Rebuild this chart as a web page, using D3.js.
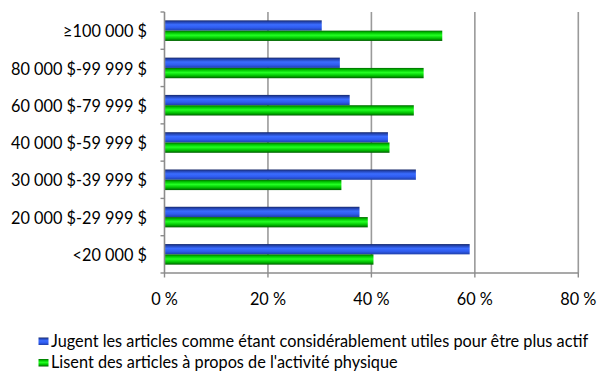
<!DOCTYPE html>
<html>
<head>
<meta charset="utf-8">
<script src="https://cdn.jsdelivr.net/npm/d3@7"></script>
<style>
  body { margin: 0; background: #fff; }
  svg { display: block; font-family: Lato, "Open Sans", sans-serif; }
</style>
</head>
<body>
<svg id="chart" width="602" height="373"></svg>
<script>
// Income brackets, top to bottom
const categories = ["≥100 000 $", "80 000 $-99 999 $", "60 000 $-79 999 $", "40 000 $-59 999 $",
                    "30 000 $-39 999 $", "20 000 $-29 999 $", "<20 000 $"];
// Percent of respondents per bracket
const jugentUtiles = [30.4, 33.9, 35.8, 43.2, 48.6, 37.7, 59.0];
const lisentArticles = [53.7, 50.1, 48.2, 43.5, 34.2, 39.3, 40.4];
const seriesNames = ["Jugent les articles comme étant considérablement utiles pour être plus actif",
                     "Lisent des articles à propos de l'activité physique"];
const xTicks = [0, 20, 40, 60, 80];

const svg = d3.select("#chart");
const plotTop = 12, plotBottom = 273;
const fontSize = 16.3;

const x = d3.scaleLinear().domain([0, 80]).range([164.5, 578.3]);
const y = d3.scaleBand().domain(categories).range([plotTop, plotBottom]);

// Gradients for the bar shading
const defs = svg.append("defs");
function grad(id, stops) {
  const g = defs.append("linearGradient").attr("id", id)
    .attr("x1", 0).attr("y1", 0).attr("x2", 0).attr("y2", 1);
  stops.forEach(([o, c]) => g.append("stop").attr("offset", o).attr("stop-color", c));
}
grad("gBlue", [[0, "#17296a"], [0.18, "#2446b8"], [0.42, "#3a6cff"], [0.7, "#2f5cf0"], [1, "#1f3fa8"]]);
grad("gGreen", [[0, "#006800"], [0.2, "#00c400"], [0.45, "#22ff22"], [0.75, "#00c000"], [1, "#005c00"]]);

// Vertical gridlines
svg.append("g").selectAll("line").data(xTicks.slice(1)).join("line")
  .attr("x1", d => x(d)).attr("x2", d => x(d))
  .attr("y1", plotTop).attr("y2", plotBottom)
  .attr("stroke", "#9a9a9a").attr("stroke-width", 1.6);

// Bars
const barH = 10.3;
const groupH = barH * 2;
const series = [
  { values: jugentUtiles, fill: "url(#gBlue)" },
  { values: lisentArticles, fill: "url(#gGreen)" }
];
series.forEach((s, si) => {
  svg.append("g").selectAll("rect").data(categories).join("rect")
    .attr("x", x(0))
    .attr("y", d => y(d) + (y.bandwidth() - groupH) / 2 + si * barH)
    .attr("width", (d, i) => x(s.values[i]) - x(0))
    .attr("height", barH)
    .attr("fill", s.fill);
});

// Left axis with tick marks between categories
const yAxis = svg.append("g");
yAxis.append("line").attr("x1", x(0)).attr("x2", x(0))
  .attr("y1", plotTop).attr("y2", plotBottom)
  .attr("stroke", "#8c8c8c").attr("stroke-width", 1.6);
const bounds = d3.range(categories.length + 1).map(i => plotTop + i * y.step());
yAxis.selectAll("line.tk").data(bounds).join("line").attr("class", "tk")
  .attr("x1", x(0) - 4).attr("x2", x(0))
  .attr("y1", d => d).attr("y2", d => d)
  .attr("stroke", "#8c8c8c").attr("stroke-width", 1.4);
yAxis.selectAll("text").data(categories).join("text")
  .attr("x", 147).attr("y", d => y(d) + y.bandwidth() / 2 + 1)
  .attr("dy", "0.35em").attr("text-anchor", "end")
  .attr("font-size", fontSize).attr("fill", "#000")
  .text(d => d);

// Bottom axis
const xAxis = svg.append("g");
xAxis.append("line").attr("x1", x(0)).attr("x2", x(80))
  .attr("y1", plotBottom).attr("y2", plotBottom)
  .attr("stroke", "#8c8c8c").attr("stroke-width", 1.6);
xAxis.selectAll("line.tk").data(xTicks).join("line").attr("class", "tk")
  .attr("x1", d => x(d)).attr("x2", d => x(d))
  .attr("y1", plotBottom).attr("y2", plotBottom + 4.5)
  .attr("stroke", "#8c8c8c").attr("stroke-width", 1.4);
xAxis.selectAll("text").data(xTicks).join("text")
  .attr("x", d => x(d)).attr("y", 305)
  .attr("text-anchor", "middle").attr("font-size", fontSize).attr("fill", "#000")
  .text(d => d + " %");

// Legend
const legend = svg.append("g");
const legendFills = ["url(#gBlue)", "url(#gGreen)"];
seriesNames.forEach((name, i) => {
  const base = 346.5 + i * 21.5;
  legend.append("rect").attr("x", 38.5).attr("y", base - 9).attr("width", 10).attr("height", 7.5)
    .attr("fill", legendFills[i]);
  legend.append("text").attr("x", 51).attr("y", base)
    .attr("font-size", fontSize).attr("fill", "#000").text(name);
});
</script>
</body>
</html>
